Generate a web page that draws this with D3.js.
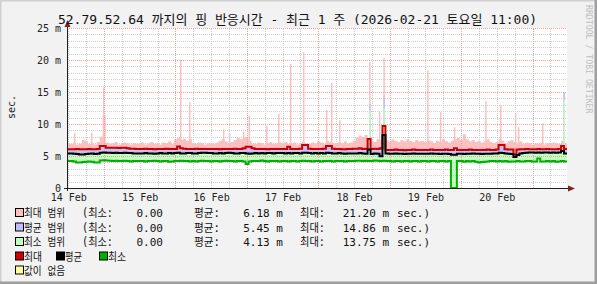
<!DOCTYPE html>
<html><head><meta charset="utf-8">
<script src="https://cdn.jsdelivr.net/npm/d3@7"></script>
<style>
body{margin:0;background:#f2f2f2}
text{font-family:"DejaVu Sans Mono","Noto Sans CJK KR",monospace}
</style>
</head><body><svg id="c" width="597" height="284"></svg>
<script>
// ---------- data ----------
const titleText = "52.79.52.64 까지의 핑 반응시간 - 최근 1 주 (2026-02-21 토요일 11:00)";
const startTime = Date.UTC(2026, 1, 14, 11, 35);
const endTime   = Date.UTC(2026, 1, 21, 11, 35);
const yTicks = [0, 5, 10, 15, 20, 25];
const yTickLabels = ["0", "5 m", "10 m", "15 m", "20 m", "25 m"];

// hourly values (ms), one row per day
const maxLine = [
 6.05,6.05,6.05,6.1,6.05,6.05,6.05,6.1,6.05,6.05,6.1,6.55,6.55,6.3,6.3,6.3,6.3,6.25,6.3,6.3,6.2,6.15,6.15,6.1,
 6.1,6.1,6.15,6.1,6.1,6.05,6.1,6.1,6.1,6.15,6.1,6.1,6.1,6.5,6.2,6.15,6.1,6.1,6.1,6.15,6.1,6.1,6.1,6.1,
 6.1,6.1,6.1,6.05,6.1,6.1,6.1,6.1,6.15,6.1,6.1,6.2,6.45,6.45,6.2,6.1,6.1,6.1,6.1,6.05,6.1,6.1,6.1,6.1,
 6.1,6.1,6.45,6.1,6.1,6.1,6.15,6.7,6.7,6.15,6.1,6.1,6.1,6.1,6.15,6.55,6.55,6.15,6.1,6.1,6.05,6.05,6.1,6.1,
 6.15,6.15,6.2,6.1,6.15,7.65,6.1,6.15,6.1,6.2,9.7,5.95,5.95,5.95,6.0,5.95,5.95,5.9,5.95,5.95,6.0,5.95,5.95,5.95,
 5.95,5.95,6.0,5.95,5.95,5.95,5.95,6.0,5.95,5.95,6.2,5.95,5.95,5.95,5.95,6.0,5.95,5.95,5.95,5.95,5.95,6.0,5.95,5.95,
 6.0,6.7,6.7,6.05,6.0,6.0,5.25,6.0,6.05,6.05,6.1,6.05,6.05,6.05,6.1,6.05,6.05,6.1,6.05,6.05,6.05,6.1,6.55,6.1
];
const avgLine = [
 5.4,5.4,5.35,5.3,5.25,5.25,5.3,5.35,5.4,5.3,5.35,5.5,5.55,5.5,5.5,5.45,5.5,5.45,5.45,5.5,5.45,5.45,5.4,5.4,
 5.4,5.4,5.45,5.4,5.4,5.35,5.4,5.45,5.4,5.4,5.45,5.4,5.45,5.5,5.4,5.4,5.45,5.45,5.4,5.4,5.45,5.5,5.5,5.45,
 5.45,5.4,5.4,5.45,5.4,5.45,5.5,5.45,5.4,5.4,5.45,5.45,5.4,5.35,5.4,5.45,5.4,5.45,5.4,5.45,5.45,5.4,5.45,5.45,
 5.45,5.4,5.45,5.4,5.45,5.45,5.4,5.5,5.5,5.45,5.4,5.45,5.4,5.45,5.4,5.5,5.45,5.4,5.4,5.45,5.4,5.35,5.4,5.4,
 5.4,5.4,5.45,5.4,5.35,6.0,5.3,5.4,5.35,4.95,8.3,5.4,5.35,5.35,5.4,5.35,5.35,5.3,5.35,5.35,5.4,5.35,5.35,5.35,
 5.35,5.35,5.4,5.35,5.35,5.3,5.35,5.35,5.3,5.2,5.2,5.35,5.35,5.3,5.35,5.35,5.4,5.35,5.35,5.3,5.35,5.35,5.35,5.4,
 5.4,5.5,5.45,5.4,5.35,5.3,4.85,5.15,5.4,5.45,5.5,5.55,5.55,5.5,5.55,5.5,5.55,5.55,5.5,5.55,5.5,5.55,5.8,5.4
];
const minLine = [
 4.2,4.2,4.15,4.0,4.0,4.05,4.1,4.15,4.1,4.0,4.0,4.3,4.35,4.3,4.25,4.2,4.25,4.2,4.2,4.25,4.2,4.15,4.2,4.2,
 4.2,4.2,4.15,4.2,4.2,4.25,4.2,4.15,4.2,4.2,4.1,4.15,4.2,4.2,4.25,4.2,4.2,4.15,4.2,4.15,4.2,4.25,4.2,4.2,
 4.15,4.2,4.2,4.15,4.2,4.25,4.2,4.2,4.15,4.2,4.2,4.15,3.75,4.15,4.2,4.2,4.2,4.3,4.2,4.15,4.2,4.2,4.2,4.15,
 4.2,4.2,4.15,4.2,4.2,4.15,4.2,4.25,4.2,4.2,4.15,4.2,4.2,4.15,4.2,4.2,4.2,4.15,4.2,4.2,4.2,4.15,4.2,4.2,
 4.2,4.25,4.25,4.2,4.25,4.2,4.2,4.3,4.25,4.2,4.25,4.2,4.2,4.15,4.2,4.2,4.15,4.2,4.2,4.15,4.2,4.2,4.15,4.2,
 4.2,4.15,4.2,4.2,4.15,4.2,4.2,4.15,4.2,0,0,4.2,4.2,4.1,4.2,4.15,4.2,4.1,4.0,4.05,4.1,4.15,4.2,4.2,
 4.15,4.2,4.15,4.2,4.1,4.15,4.15,4.2,4.15,4.15,4.2,4.2,4.15,4.15,4.6,4.15,4.15,4.2,4.15,4.2,4.1,4.15,4.2,4.15
];
const pinkTop = [
 7.0,6.9,7.1,6.8,6.9,7.5,7.4,6.9,7.0,6.8,7.2,8.0,11.4,7.1,6.9,7.0,7.2,6.8,6.9,7.1,7.0,6.8,7.0,6.9,
 6.9,7.1,6.8,7.0,7.2,6.9,7.0,6.8,7.1,7.0,7.3,6.9,7.6,7.8,7.5,7.7,7.4,7.6,7.0,6.9,7.1,7.0,6.8,7.0,
 7.0,6.9,7.1,7.4,7.6,7.3,7.0,7.2,7.5,7.8,7.6,7.9,8.0,7.4,7.0,6.9,7.1,7.0,6.8,7.0,7.2,6.9,7.0,7.1,
 7.0,7.2,6.9,7.0,7.1,6.8,7.0,7.2,7.0,6.9,7.1,7.0,7.3,7.1,6.9,7.4,7.2,7.0,6.9,7.1,7.0,7.3,7.0,7.1,
 7.4,7.9,8.2,8.0,8.3,7.8,7.4,7.2,7.6,7.5,7.8,7.5,7.3,7.6,7.4,7.2,7.5,7.3,7.6,7.4,7.2,7.5,7.3,7.4,
 7.2,7.5,7.3,7.0,7.4,7.2,7.6,7.3,7.1,7.4,7.6,7.8,7.5,8.4,7.6,7.3,7.5,7.2,7.4,7.1,7.3,7.6,7.2,7.0,
 7.2,7.6,7.4,7.0,7.3,7.5,7.2,7.0,7.3,6.9,7.1,7.0,6.8,7.0,6.9,7.1,6.8,7.0,6.9,7.1,7.0,6.9,7.4,7.0
];
// narrow peaks: hours after start and peak values (ms)
const spikeHours = [2.35,8.06,12.1,37.97,41.0,52.4,54.4,59.1,61.0,66.9,70.9,74.9,79.3,87.0,88.7,91.4,101.5,104.8,106.3,121.0,125.3,130.0,140.5,145.5,150.5,151.5,159.6,166.8];
const spikePink  = [8.6,8.6,15.7,20.0,13.4,9.2,8.6,8.8,11.3,9.7,11.6,19.4,21.2,12.2,16.4,10.6,19.7,11.9,20.3,18.4,11.9,9.5,13.6,13.0,11.7,9.5,10.1,15.0];
const spikeBlue  = [null,null,null,null,null,null,null,null,null,null,null,null,null,null,null,null,13.2,null,14.5,null,null,null,null,null,null,null,null,14.86];
const spikeGreen = [null,null,null,null,null,null,null,null,null,null,null,null,null,null,null,null,12.2,null,12.5,null,null,null,null,null,null,null,null,13.75];

// legend
const rangeLabels = ["최대 범위", "평균 범위", "최소 범위"];
const rangeColors = ["#ffbfbf", "#bfbfff", "#bfffbf"];
const rangeMin = ["0.00", "0.00", "0.00"];
const rangeAvg = ["6.18 m", "5.45 m", "4.13 m"];
const rangeMax = ["21.20 m", "14.86 m", "13.75 m"];
const lineLabels = ["최대", "평균", "최소"];
const lineColors = ["#cc0000", "#000000", "#00b000"];
const noDataLabel = "값이 없음";
const noDataColor = "#ffffa0";

// ---------- drawing ----------
const W = 597, H = 284;
const HOUR = 3600e3;
const svg = d3.select("#c");
const x = d3.scaleUtc().domain([new Date(startTime), new Date(endTime)]).range([67, 567]);
const y = d3.scaleLinear().domain([0, 25]).range([188, 28]);

// background + 3D frame
svg.append("rect").attr("width", W).attr("height", H).attr("fill", "#f2f2f2");
svg.append("path").attr("d", `M0,${H} V0 H${W}`).attr("fill","none").attr("stroke","#cfcfcf").attr("stroke-width",3);
svg.append("path").attr("d", `M0,${H-1} H${W-1} V0`).attr("fill","none").attr("stroke","#9e9e9e").attr("stroke-width",3);
// canvas
svg.append("rect").attr("x", x.range()[0]).attr("y", y(25)).attr("width", x.range()[1]-x.range()[0]).attr("height", y(0)-y(25)).attr("fill", "#fff");

const data = maxLine.map((v, i) => ({
  t: new Date(startTime + i * HOUR), max: v, avg: avgLine[i], min: minLine[i], pink: pinkTop[i]
}));
data.push(Object.assign({}, data[data.length-1], {t: new Date(endTime)}));

const area = (lo, hi) => d3.area().x(d => x(d.t)).y0(d => y(d[lo])).y1(d => y(d[hi])).curve(d3.curveStepAfter);
const spikes = spikeHours.map((h, i) => ({t0: new Date(startTime + h*HOUR), t1: new Date(startTime + (h+0.5)*HOUR), p: spikePink[i], b: spikeBlue[i], g: spikeGreen[i]}));

const gData = svg.append("g");
gData.append("path").datum(data).attr("d", area("max", "pink")).attr("fill", rangeColors[0]);
gData.selectAll(".sp").data(spikes).join("rect").attr("x", d => x(d.t0)).attr("width", d => x(d.t1)-x(d.t0))
  .attr("y", d => y(d.p)).attr("height", d => y(5)-y(d.p)).attr("fill", rangeColors[0]);
gData.append("path").datum(data).attr("d", area("avg", "max")).attr("fill", rangeColors[1]);
gData.selectAll(".sb").data(spikes.filter(d => d.b != null)).join("rect").attr("x", d => x(d.t0)).attr("width", d => x(d.t1)-x(d.t0))
  .attr("y", d => y(d.b)).attr("height", d => y(5)-y(d.b)).attr("fill", rangeColors[1]);
gData.append("path").datum(data).attr("d", area("min", "avg")).attr("fill", rangeColors[2]);
gData.selectAll(".sg").data(spikes.filter(d => d.g != null)).join("rect").attr("x", d => x(d.t0)).attr("width", d => x(d.t1)-x(d.t0))
  .attr("y", d => y(d.g)).attr("height", d => y(5)-y(d.g)).attr("fill", rangeColors[2]);

// grid
const gGrid = svg.append("g").attr("shape-rendering", "crispEdges");
d3.range(1, 26).forEach(v => {
  const major = v % 5 === 0;
  gGrid.append("line").attr("x1", x.range()[0]).attr("x2", x.range()[1]).attr("y1", Math.round(y(v))+0.5).attr("y2", Math.round(y(v))+0.5)
    .attr("stroke", major ? "#f0a0a0" : "#cfcfcf").attr("stroke-dasharray", "1,1");
});
d3.utcHour.every(6).range(new Date(startTime), new Date(endTime)).forEach(t => {
  const major = t.getUTCHours() === 0;
  const px = Math.round(x(t)) + 0.5;
  gGrid.append("line").attr("x1", px).attr("x2", px).attr("y1", y(0)).attr("y2", y(25))
    .attr("stroke", major ? "#f0a0a0" : "#cfcfcf").attr("stroke-dasharray", "1,1");
});

// lines
const line = k => d3.line().x(d => x(d.t)).y(d => y(d[k])).curve(d3.curveStepAfter);
[["max", lineColors[0]], ["avg", lineColors[1]], ["min", lineColors[2]]].forEach(([k, c]) => {
  svg.append("path").datum(data).attr("d", line(k)).attr("fill", "none").attr("stroke", c).attr("stroke-width", 2);
});

// axes lines + arrows
svg.append("line").attr("x1", 67.5).attr("x2", 67.5).attr("y1", 191).attr("y2", 25).attr("stroke", "#1f1f1f");
svg.append("line").attr("x1", 64).attr("x2", 570).attr("y1", 188.5).attr("y2", 188.5).attr("stroke", "#1f1f1f");
svg.append("path").attr("d", "M67.5,20 L64.5,27 L70.5,27 Z").attr("fill", "#801f1f");
svg.append("path").attr("d", "M575,188.5 L568,185.5 L568,191.5 Z").attr("fill", "#801f1f");

// axis labels via d3 axes
const yAxis = d3.axisLeft(y).tickValues(yTicks).tickSize(0).tickPadding(6).tickFormat((d, i) => yTickLabels[i]);
const gy = svg.append("g").attr("transform", "translate(67,0)").call(yAxis);
gy.select(".domain").remove();
gy.selectAll("text").attr("font-family", "DejaVu Sans Mono").attr("font-size", 10).attr("fill", "#222");

const noonTicks = d3.utcDay.range(new Date(startTime - 24*HOUR), new Date(endTime)).map(d => new Date(+d + 12*HOUR)).filter(d => +d >= startTime && +d <= endTime);
const xAxis = d3.axisBottom(x).tickValues(noonTicks).tickSize(0).tickPadding(6).tickFormat(d3.utcFormat("%d %b"));
const gx = svg.append("g").attr("transform", "translate(0,188)").call(xAxis);
gx.select(".domain").remove();
gx.selectAll("text").attr("font-family", "DejaVu Sans Mono").attr("font-size", 10).attr("fill", "#222");

// title
svg.append("text").attr("x", 58).attr("y", 24).attr("font-size", 13).attr("fill", "#111")
  .attr("textLength", 479).attr("lengthAdjust", "spacing").text(titleText);
// y label
svg.append("text").attr("transform", "translate(15,107) rotate(-90)").attr("text-anchor", "middle")
  .attr("font-size", 10).attr("fill", "#222").text("sec.");
// watermark
svg.append("text").attr("transform", "translate(586,5) rotate(90)").attr("font-size", 8.2)
  .attr("fill", "#c0c0c0").text("RRDTOOL / TOBI OETIKER");

// legend
const lg = svg.append("g").attr("font-size", 11).attr("fill", "#111");
const rowY = [213, 227.5, 242];
const korean = (sel, txt, x0, yy, len) => sel.append("text").attr("x", x0).attr("y", yy).attr("font-family", "Noto Sans CJK KR").attr("font-size", 11.5)
  .attr("textLength", len).attr("lengthAdjust", "spacingAndGlyphs").text(txt);
rangeLabels.forEach((lab, i) => {
  const cy = rowY[i], by = cy + 4;
  lg.append("rect").attr("x", 15.5).attr("y", cy - 4.5).attr("width", 8).attr("height", 8).attr("fill", rangeColors[i]).attr("stroke", "#000");
  korean(lg, lab, 24, by, 41);
  korean(lg, "(최소:", 82, by, 31);
  lg.append("text").attr("x", 163).attr("y", by).attr("text-anchor", "end").text(rangeMin[i]);
  korean(lg, "평균:", 194, by, 26);
  lg.append("text").attr("x", 283).attr("y", by).attr("text-anchor", "end").text(rangeAvg[i]);
  korean(lg, "최대:", 300, by, 25);
  lg.append("text").attr("x", 389).attr("y", by).attr("text-anchor", "end").text(rangeMax[i]);
  lg.append("text").attr("x", 397).attr("y", by).text("sec.)");
});
const lineX = [16, 57, 100];
const lineLabLen = [18, 17, 18];
lineLabels.forEach((lab, i) => {
  const cy = 256.5;
  lg.append("rect").attr("x", lineX[i] - 0.5).attr("y", cy - 4.5).attr("width", 8).attr("height", 8).attr("fill", lineColors[i]).attr("stroke", "#000");
  korean(lg, lab, lineX[i] + 8, cy + 4, lineLabLen[i]);
});
lg.append("rect").attr("x", 15.5).attr("y", 270.5 - 4.5).attr("width", 8).attr("height", 8).attr("fill", noDataColor).attr("stroke", "#000");
korean(lg, noDataLabel, 24, 274.5, 41);
</script>
</body></html>
